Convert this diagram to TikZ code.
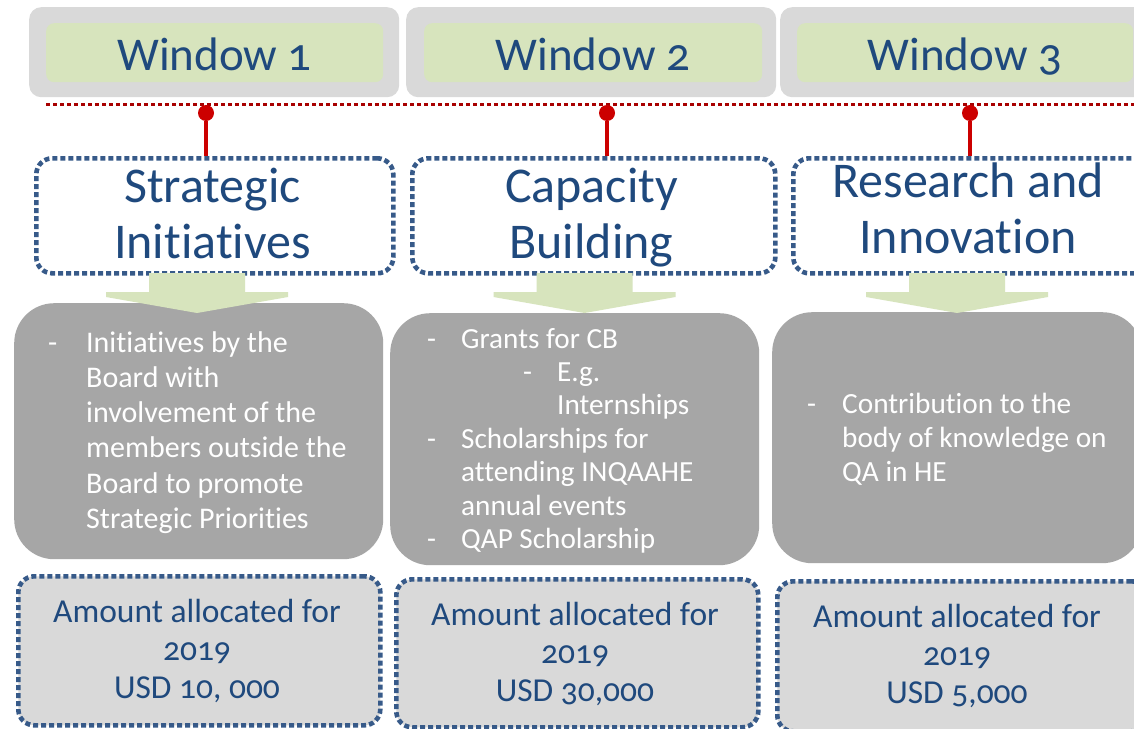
\documentclass[tikz,border=0pt]{standalone}
\usepackage{fontspec}
\setmainfont[Numbers=OldStyle, Ligatures=NoCommon]{Carlito}
\usetikzlibrary{calc}
\definecolor{ttl}{HTML}{1F497D}
\definecolor{dotb}{HTML}{375A89}
\definecolor{grn}{HTML}{D7E4BD}
\definecolor{lgray}{HTML}{D9D9D9}
\definecolor{mgray}{HTML}{A6A6A6}
\definecolor{dred}{HTML}{A80000}
\definecolor{cred}{HTML}{CC0000}
\begin{document}
\begin{tikzpicture}[x=1pt,y=-1pt,
  winouter/.style={fill=lgray, rounded corners=12pt, inner sep=0pt, anchor=north west},
  wininner/.style={fill=grn, rounded corners=8pt, inner sep=0pt, anchor=north west},
  wintext/.style={text=ttl, font={\fontsize{47}{56}\selectfont}, anchor=base, inner sep=0pt},
  dotbox/.style={draw=dotb, line width=4.6pt, dash pattern=on 5pt off 3pt, rounded corners=16pt, inner sep=0pt, anchor=north west},
  bodybox/.style={fill=mgray, rounded corners=40pt, inner sep=0pt, anchor=north west},
  amtbox/.style={dotbox, fill=lgray},
  titletext/.style={text=ttl, font={\fontsize{50}{56}\selectfont}, align=center, anchor=north, inner sep=0pt},
  amttext/.style={text=ttl, font={\fontsize{33.5}{38}\selectfont}, align=center, anchor=north, inner sep=0pt},
  bodytext/.style={text=white, anchor=north west, inner sep=0pt},
  reddot/.style={circle, fill=cred, minimum size=16pt, inner sep=0pt},
  redlink/.style={draw=cred, line width=4pt},
  downarrow/.pic={\fill[grn] (-48,0) -- (48,0) -- (48,19) -- (91,19) -- (91,24) -- (0,40) -- (-91,24) -- (-91,19) -- (-48,19) -- cycle;}
]
\useasboundingbox (0,0) rectangle (1134,728);
\fill[white] (0,0) rectangle (1134,728);

% window header boxes
\node[winouter, minimum width=370pt, minimum height=90pt] (w1o) at (29,7) {};
\node[winouter, minimum width=370pt, minimum height=90pt] (w2o) at (406,7) {};
\node[winouter, minimum width=380pt, minimum height=90pt] (w3o) at (780,7) {};
\node[wininner, minimum width=337pt, minimum height=59pt] (w1i) at (46,23) {};
\node[wininner, minimum width=338pt, minimum height=59pt] (w2i) at (424,23) {};
\node[wininner, minimum width=336pt, minimum height=59pt] (w3i) at (797,23) {};
\node[wintext] (w1t) at (214.5,70) {Window 1};
\node[wintext] (w2t) at (593,70) {Window 2};
\node[wintext] (w3t) at (965,70) {Window 3};

% red dotted rule
\coordinate (rl) at (46,104);
\coordinate (rr) at (1140,104);
\draw[dred, line width=3pt, dash pattern=on 3.5pt off 3.5pt] (rl) -- (rr);

% title boxes
\node[dotbox, minimum width=357pt, minimum height=115pt] (t1) at (34,156) {};
\node[dotbox, minimum width=363pt, minimum height=115pt] (t2) at (410,156) {};
\node[dotbox, minimum width=370pt, minimum height=115pt] (t3) at (791,156) {};

% red connectors
\node[reddot] (d1) at (206,113) {};
\node[reddot] (d2) at (607,113) {};
\node[reddot] (d3) at (970,113) {};
\draw[redlink] (d1.south) -- (d1 |- t1.north);
\draw[redlink] (d2.south) -- (d2 |- t2.north);
\draw[redlink] (d3.south) -- (d3 |- t3.north);

\node[titletext] (tt1) at (212.5,162.8) {\strut Strategic\\Initiatives};
\node[titletext] (tt2) at (591.5,162.8) {\strut Capacity\\Building};
\node[titletext] (tt3) at (968,157.8) {\strut Research and\\Innovation};

% body boxes
\node[bodybox, minimum width=369pt, minimum height=256pt] (b1) at (14,303) {};
\node[bodybox, minimum width=369pt, minimum height=252pt] (b2) at (390,313) {};
\node[bodybox, minimum width=370pt, minimum height=251pt] (b3) at (772,312) {};

% green arrows
\pic at (197,273) {downarrow};
\pic at (584.5,273) {downarrow};
\pic at (957,273) {downarrow};

% body texts
\node[bodytext, font={\fontsize{30}{35.2}\selectfont}] (bt1) at (48,327.4) {%
\begin{tabular}{@{}p{38pt}@{}l@{}}
-&Initiatives by the\\
&Board with\\
&involvement of the\\
&members outside the\\
&Board to promote\\
&Strategic Priorities
\end{tabular}};
\node[bodytext, font={\fontsize{29.2}{33.4}\selectfont}] (bt2) at (427,324.6) {%
\begin{tabular}{@{}p{34pt}@{}l@{}}
-&Grants for CB\\
&\hspace{62pt}\makebox[34pt][l]{-}E.g.\\
&\hspace{96pt}Internships\\
-&Scholarships for\\
&attending INQAAHE\\
&annual events\\
-&QAP Scholarship
\end{tabular}};
\node[bodytext, font={\fontsize{29.3}{34}\selectfont}] (bt3) at (807,389.2) {%
\begin{tabular}{@{}p{35pt}@{}l@{}}
-&Contribution to the\\
&body of knowledge on\\
&QA in HE
\end{tabular}};

% amount boxes
\node[amtbox, minimum width=362pt, minimum height=149pt] (a1) at (16,574) {};
\node[amtbox, minimum width=362pt, minimum height=148pt] (a2) at (394,577) {};
\node[amtbox, minimum width=370pt, minimum height=150pt] (a3) at (775,579) {};
\node[amttext] (at1) at (197,595.4) {\strut Amount allocated for\\2019\\USD 10, 000};
\node[amttext] (at2) at (575,598.4) {\strut Amount allocated for\\2019\\USD 30,000};
\node[amttext] (at3) at (957,600.4) {\strut Amount allocated for\\2019\\USD 5,000};
\end{tikzpicture}
\end{document}
